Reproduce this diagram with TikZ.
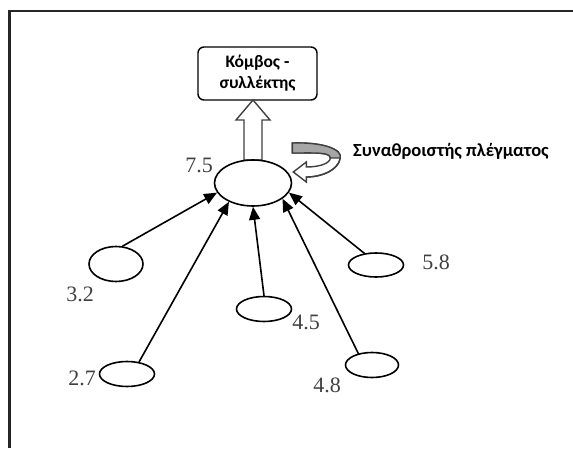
\documentclass[tikz,border=0pt]{standalone}
\usepackage{fontspec}
\setmainfont{Liberation Serif}
\newfontfamily\grfont{Carlito}
\usetikzlibrary{shapes.geometric,arrows.meta}

\tikzset{
	sensor/.style={draw,ellipse,line width=1.6pt,fill=white,inner sep=0pt},
	val/.style={font=\fontsize{22}{24}\selectfont,text=black!75,inner sep=0pt},
	link/.style={line width=1.6pt,-{Triangle[length=13pt,width=11pt]}},
	hollow/.style={draw=black!75,line width=1.4pt,fill=white,line join=miter}
}

\begin{document}
\begin{tikzpicture}[x=1pt,y=1pt,cap=round]
		\useasboundingbox (0,0) rectangle (573,448);

		% draw the frame
		\draw[line width=2.2pt,black!85,cap=butt] (9.5,0) -- (9.5,437) -- (573,437);

		% draw the collector node
		\node[draw,rounded corners=6pt,line width=1.4pt,minimum width=119pt,minimum height=53pt,
			align=center,font=\grfont\bfseries\fontsize{17.5}{21}\selectfont] (box) at (257.5,374.5) {Κόμβος -\\συλλέκτης};

		% draw the wide arrow from the aggregator to the collector
		\draw[hollow] (244,288) -- ++(0,40) -- ++(-8,0) -- (253,348) -- ++(17,-20) -- ++(-8,0) -- (262,288) -- cycle;

		% draw the aggregator
		\node[sensor,minimum width=77pt,minimum height=46pt] (c) at (253,265) {};
		\node[val] (v75) at (199,283) {7.5};

		% draw the curved arrow of the aggregator
		\begin{scope}[shift={(c.east)}]
			\draw[hollow] (0,40) .. controls (30,41) and (50,34) .. (48,25)
				.. controls (46,13) and (30,6) .. (14,6) -- (14,1) -- (1,11) -- (14,21) -- (14,16)
				.. controls (28,16) and (38,20) .. (38,25)
				.. controls (38,31) and (23,30) .. (0,30) -- cycle;
			\fill[black!35] (0,40) .. controls (30,41) and (50,34) .. (48,25) -- (38,25)
				.. controls (38,31) and (23,30) .. (0,30) -- cycle;
			\draw[black!75,line width=1.4pt] (0,40) .. controls (30,41) and (50,34) .. (48,25)
				.. controls (46,13) and (30,6) .. (14,6);
			\draw[black!75,line width=1.4pt] (48,25) -- (38,25)
				.. controls (38,31) and (23,30) .. (0,30) -- (0,40);
		\end{scope}
		\node[anchor=west,inner sep=0pt,font=\grfont\bfseries\fontsize{18.5}{21}\selectfont] (agg) at (353,297) {Συναθροιστής πλέγματος};

		% draw the grid nodes
		\node[sensor,minimum width=54pt,minimum height=35pt] (e32) at (116,184) {};
		\node[sensor,minimum width=55pt,minimum height=25pt] (e27) at (127,74) {};
		\node[sensor,minimum width=55pt,minimum height=25pt] (e45) at (264,139) {};
		\node[sensor,minimum width=55pt,minimum height=24pt] (e58) at (376,183) {};
		\node[sensor,minimum width=53pt,minimum height=25pt] (e48) at (372,83) {};

		% draw the values
		\node[val] (v32) at (80,154) {3.2};
		\node[val] (v27) at (82,70) {2.7};
		\node[val] (v45) at (306,126) {4.5};
		\node[val] (v58) at (436,186) {5.8};
		\node[val] (v48) at (327,63) {4.8};

		% draw the links to the aggregator
		\foreach \s/\a/\b in {e32/70/195, e27/45/218, e45/90/270, e58/135/345, e48/140/332}
			\draw[link] (\s.\a) -- (c.\b);
	\end{tikzpicture}
\end{document}
